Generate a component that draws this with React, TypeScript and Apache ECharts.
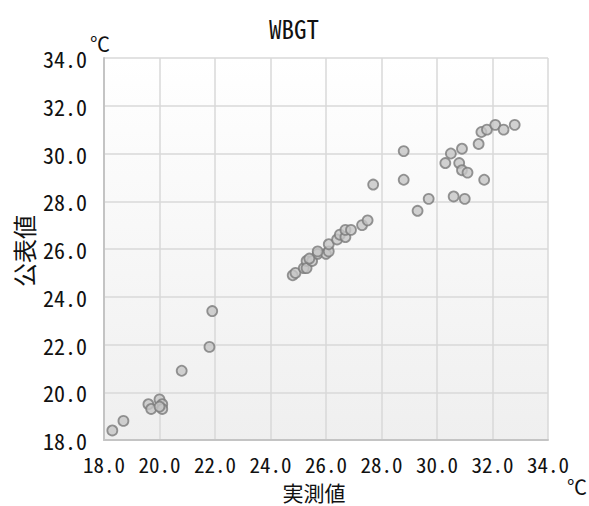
import React, { useEffect, useRef } from "react";
import * as echarts from "echarts";

const chartTitle = "WBGT";
const xAxisName = "実測値";
const yAxisName = "公表値";
const unitLabel = "℃";

// 実測値 (measured)
const measured = [
  18.3, 18.7, 19.6, 19.7, 20.0, 20.1, 20.1, 20.0, 20.8, 21.8, 21.9,
  24.8, 24.9, 25.2, 25.3, 25.3, 25.5, 25.7, 26.0, 26.1, 25.4, 25.7,
  26.1, 26.4, 26.5, 26.7, 26.7, 26.9, 27.3, 27.5, 27.7, 28.8, 28.8,
  29.3, 29.7, 30.3, 30.5, 30.6, 30.8, 30.9, 30.9, 31.0, 31.1, 31.5,
  31.6, 31.7, 31.8, 32.1, 32.4, 32.8,
];
// 公表値 (published)
const published = [
  18.4, 18.8, 19.5, 19.3, 19.7, 19.5, 19.3, 19.4, 20.9, 21.9, 23.4,
  24.9, 25.0, 25.2, 25.5, 25.2, 25.5, 25.8, 25.8, 25.9, 25.6, 25.9,
  26.2, 26.4, 26.6, 26.5, 26.8, 26.8, 27.0, 27.2, 28.7, 28.9, 30.1,
  27.6, 28.1, 29.6, 30.0, 28.2, 29.6, 30.2, 29.3, 28.1, 29.2, 30.4,
  30.9, 28.9, 31.0, 31.2, 31.0, 31.2,
];

const axisMin = 18;
const axisMax = 34;
const axisStep = 2;

const labelFont = "'Noto Sans Mono CJK JP', 'DejaVu Sans Mono', monospace";
const cjkFont = "'Noto Sans CJK JP', sans-serif";

export default function App() {
  const ref = useRef<HTMLDivElement>(null);
  useEffect(() => {
    if (!ref.current) return;
    const chart = echarts.init(ref.current, undefined, { renderer: "svg" });
    const data = measured.map((x, i) => [x, published[i]]);
    const gridLine = { show: true, lineStyle: { color: "#d9d9d9", width: 1.5 } };
    chart.setOption({
      animation: false,
      backgroundColor: "#ffffff",
      grid: {
        left: 104,
        right: 41,
        top: 58,
        bottom: 66,
        show: true,
        borderWidth: 0,
        backgroundColor: new echarts.graphic.LinearGradient(0, 0, 0, 1, [
          { offset: 0, color: "#ffffff" },
          { offset: 1, color: "#efefef" },
        ]),
      },
      xAxis: {
        type: "value",
        min: axisMin,
        max: axisMax,
        interval: axisStep,
        axisLine: { show: true, lineStyle: { color: "#c4c4c4", width: 2 } },
        axisTick: { show: false },
        splitLine: gridLine,
        axisLabel: {
          margin: 13,
          color: "#111",
          fontSize: 21,
          lineHeight: 21,
          fontFamily: labelFont,
          formatter: (v: number) => v.toFixed(1),
        },
      },
      yAxis: {
        type: "value",
        min: axisMin,
        max: axisMax,
        interval: axisStep,
        axisLine: { show: true, lineStyle: { color: "#c4c4c4", width: 2 } },
        axisTick: { show: false },
        splitLine: gridLine,
        axisLabel: {
          margin: 17,
          color: "#111",
          fontSize: 22,
          lineHeight: 22,
          fontFamily: labelFont,
          formatter: (v: number) => v.toFixed(1),
        },
      },
      graphic: [
        {
          type: "text",
          x: 294,
          y: 28,
          style: {
            text: chartTitle,
            fontSize: 25,
            fontFamily: labelFont,
            fill: "#111",
            textAlign: "center",
            textVerticalAlign: "middle",
          },
        },
        {
          type: "text",
          x: 100,
          y: 43,
          style: {
            text: unitLabel,
            fontSize: 20,
            fontFamily: cjkFont,
            fill: "#111",
            textAlign: "center",
            textVerticalAlign: "middle",
          },
        },
        {
          type: "text",
          x: 577,
          y: 486,
          style: {
            text: unitLabel,
            fontSize: 20,
            fontFamily: cjkFont,
            fill: "#111",
            textAlign: "center",
            textVerticalAlign: "middle",
          },
        },
        {
          type: "text",
          x: 314,
          y: 492,
          style: {
            text: xAxisName,
            fontSize: 21,
            lineHeight: 21,
            fontFamily: cjkFont,
            fill: "#111",
            textAlign: "center",
            textVerticalAlign: "middle",
          },
        },
        {
          type: "text",
          x: 23,
          y: 251,
          rotation: Math.PI / 2,
          style: {
            text: yAxisName,
            fontSize: 24,
            fontFamily: cjkFont,
            fill: "#111",
            textAlign: "center",
            textVerticalAlign: "middle",
          },
        },
      ],
      series: [
        {
          type: "scatter",
          data,
          symbol: "circle",
          symbolSize: 10,
          itemStyle: { color: "#c6c6c6", borderColor: "#7a7a7a", borderWidth: 1.8 },
        },
      ],
    });
    return () => chart.dispose();
  }, []);
  return (
    <div
      ref={ref}
      style={{ position: "fixed", left: 0, top: 0, width: 589, height: 506 }}
    />
  );
}
